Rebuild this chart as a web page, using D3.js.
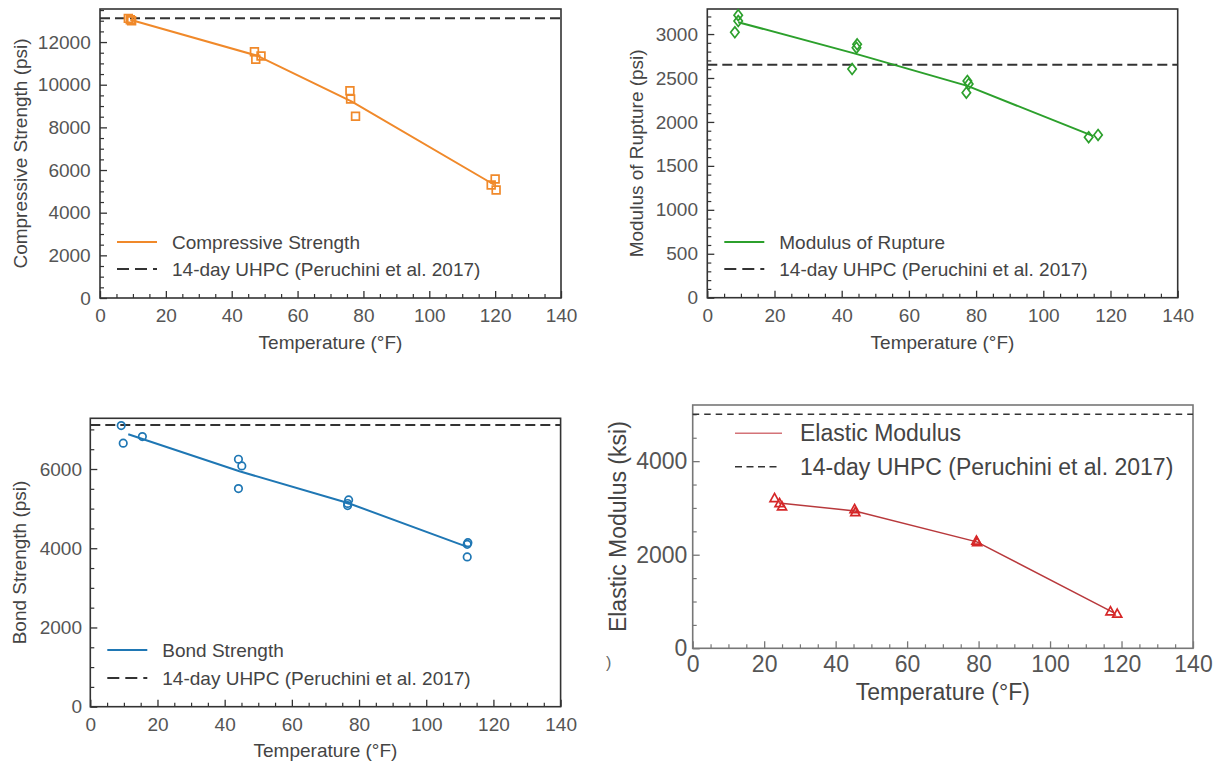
<!DOCTYPE html>
<html>
<head>
<meta charset="utf-8">
<script src="https://cdn.jsdelivr.net/npm/d3@7"></script>
<style>
  html, body { margin: 0; padding: 0; background: #fff; }
  svg { display: block; font-family: "Liberation Sans", Arial, sans-serif; }
</style>
</head>
<body>
<svg id="chart" width="1222" height="763"></svg>
<script>
// ---------- DATA ----------
const xTickValues = [0, 20, 40, 60, 80, 100, 120, 140];
const xLabel = "Temperature (°F)";
const refLabel = "14-day UHPC (Peruchini et al. 2017)";

// Compressive strength (psi)
const csTemp = [8.6, 9.6, 9.2, 46.9, 47.3, 48.9, 75.9, 76.1, 77.6, 120.0, 118.8, 120.3];
const csValue = [13110, 13000, 13050, 11550, 11190, 11345, 9720, 9330, 8520, 5580, 5300, 5060];
const csLineTemp = [9.2, 47.7, 76.5, 119.7];
const csLineValue = [13050, 11360, 9210, 5310];
const csRef = 13120;
const csYTicks = [0, 2000, 4000, 6000, 8000, 10000, 12000];

// Modulus of rupture (psi)
const morTemp = [8.2, 9.2, 9.2, 43.1, 44.6, 44.4, 77.4, 77.8, 77.1, 113.5, 116.3];
const morValue = [3020, 3215, 3148, 2602, 2883, 2845, 2466, 2432, 2333, 1826, 1852];
const morLineTemp = [9.2, 44.0, 77.4, 114.9];
const morLineValue = [3135, 2777, 2410, 1839];
const morRef = 2650;
const morYTicks = [0, 500, 1000, 1500, 2000, 2500, 3000];

// Bond strength (psi)
const bsTemp = [9.2, 9.8, 15.5, 44.1, 45.1, 44.1, 76.9, 76.6, 76.6, 112.4, 112.2, 112.2];
const bsValue = [7096, 6652, 6818, 6247, 6078, 5505, 5220, 5130, 5076, 4141, 4099, 3780];
const bsLineTemp = [11.3, 44.4, 76.7, 112.0];
const bsLineValue = [6879, 5943, 5142, 4040];
const bsRef = 7110;
const bsYTicks = [0, 2000, 4000, 6000];

// Elastic modulus (ksi)
const emTemp = [22.9, 24.3, 25.0, 45.3, 45.5, 79.4, 79.6, 116.9, 118.8];
const emValue = [3203, 3096, 3024, 2968, 2904, 2291, 2260, 782, 732];
const emLineTemp = [24.1, 45.4, 79.5, 117.9];
const emLineValue = [3108, 2936, 2275, 757];
const emRef = 5000;
const emYTicks = [0, 2000, 4000];

// ---------- PANELS ----------
const panels = [
  { name: "Compressive Strength", yLabel: "Compressive Strength (psi)",
    temp: csTemp, value: csValue, lineT: csLineTemp, lineV: csLineValue, ref: csRef,
    yTicks: csYTicks, yMinorStep: 500, yMax: 13550, color: "#f0892a", marker: "square",
    box: { l: 100, r: 561, t: 9, b: 298 }, font: 19, yLabelX: 20, xLabelY: 342,
    yPad: 9.3, xLabOff: 17, legend: { y1: 242, y2: 269 }, frame: "#333",
    dash: "10,5", legDash: "12,6", lw: 2, refW: 2, big: false },
  { name: "Modulus of Rupture", yLabel: "Modulus of Rupture (psi)",
    temp: morTemp, value: morValue, lineT: morLineTemp, lineV: morLineValue, ref: morRef,
    yTicks: morYTicks, yMinorStep: 100, yMax: 3285, color: "#2ca02c", marker: "diamond",
    box: { l: 707.3, r: 1177.7, t: 9, b: 297.7 }, font: 19, yLabelX: 636.7, xLabelY: 342,
    yPad: 9.3, xLabOff: 17, legend: { y1: 242, y2: 269 }, frame: "#333",
    dash: "10,5", legDash: "12,6", lw: 2, refW: 2, big: false },
  { name: "Bond Strength", yLabel: "Bond Strength (psi)",
    temp: bsTemp, value: bsValue, lineT: bsLineTemp, lineV: bsLineValue, ref: bsRef,
    yTicks: bsYTicks, yMinorStep: 500, yMax: 7280, color: "#1f77b4", marker: "circle",
    box: { l: 90.3, r: 560.6, t: 418.3, b: 706.7 }, font: 19, yLabelX: 19, xLabelY: 750.7,
    yPad: 8.3, xLabOff: 17, legend: { y1: 650, y2: 678 }, frame: "#333",
    dash: "10,5", legDash: "12,6", lw: 2, refW: 2, big: false },
  { name: "Elastic Modulus", yLabel: "Elastic Modulus (ksi)",
    temp: emTemp, value: emValue, lineT: emLineTemp, lineV: emLineValue, ref: emRef,
    yTicks: emYTicks, yMinorStep: 500, yMax: 5200, color: "#d62728", marker: "triangle",
    box: { l: 692.7, r: 1193, t: 405, b: 648.3 }, font: 23, yLabelX: 618, xLabelY: 691.7,
    yPad: 5.4, xLabOff: 15, legend: { y1: 433.3, y2: 466.7 }, frame: "#777",
    dash: "6.5,5", legDash: "7,4.5", lw: 1.5, refW: 1.5, big: true, lineColor: "#b8393c" }
];

const svg = d3.select("#chart");
const tickColor = "#555";
const labelColor = "#444";

function markerPath(type) {
  switch (type) {
    case "square": return d3.symbol(d3.symbolSquare, 60)();
    case "diamond": return "M0,-5.4L4.2,0L0,5.4L-4.2,0Z";
    case "circle": return d3.symbol(d3.symbolCircle, 44)();
    case "triangle": return "M0,-5L4.5,3.1L-4.5,3.1Z";
  }
}

panels.forEach(p => {
  const B = p.box;
  const x = d3.scaleLinear().domain([0, 140]).range([B.l, B.r]);
  const y = d3.scaleLinear().domain([0, p.yMax]).range([B.b, B.t]);
  const g = svg.append("g");

  // minor ticks
  const xMinor = d3.range(0, 141, 5).filter(v => !xTickValues.includes(v));
  const yMinor = d3.range(0, p.yMax, p.yMinorStep).filter(v => !p.yTicks.includes(v));

  const xAxisMinor = d3.axisBottom(x).tickValues(xMinor).tickSize(-4).tickFormat("");
  const yAxisMinor = d3.axisLeft(y).tickValues(yMinor).tickSize(-4).tickFormat("");
  g.append("g").attr("transform", `translate(0,${B.b})`).call(xAxisMinor)
    .call(s => s.select(".domain").remove())
    .selectAll("line").attr("stroke", p.frame).attr("stroke-width", 1.2);
  g.append("g").attr("transform", `translate(${B.l},0)`).call(yAxisMinor)
    .call(s => s.select(".domain").remove())
    .selectAll("line").attr("stroke", p.frame).attr("stroke-width", 1.2);

  // major ticks
  const fs = p.font;
  const xAxis = d3.axisBottom(x).tickValues(xTickValues).tickSize(-7)
    .tickPadding(p.xLabOff - 0.35 * fs).tickFormat(d3.format("d"));
  const yAxis = d3.axisLeft(y).tickValues(p.yTicks).tickSize(-7)
    .tickPadding(p.yPad).tickFormat(d3.format("d"));
  const gx = g.append("g").attr("transform", `translate(0,${B.b})`).call(xAxis);
  const gy = g.append("g").attr("transform", `translate(${B.l},0)`).call(yAxis);
  [gx, gy].forEach(a => {
    a.select(".domain").remove();
    a.selectAll("line").attr("stroke", p.frame).attr("stroke-width", 1.3);
    a.selectAll("text").attr("fill", tickColor).style("font-size", fs + "px")
      .style("font-family", '"Liberation Sans", Arial, sans-serif');
  });

  // frame
  g.append("rect").attr("x", B.l).attr("y", B.t)
    .attr("width", B.r - B.l).attr("height", B.b - B.t)
    .attr("fill", "none").attr("stroke", p.frame).attr("stroke-width", 1.6);

  // reference dashed line
  g.append("line").attr("x1", B.l).attr("x2", B.r)
    .attr("y1", y(p.ref)).attr("y2", y(p.ref))
    .attr("stroke", "#333").attr("stroke-width", p.refW).attr("stroke-dasharray", p.dash);

  // fitted line
  const lineData = p.lineT.map((t, i) => [t, p.lineV[i]]);
  g.append("path").datum(lineData)
    .attr("d", d3.line().x(d => x(d[0])).y(d => y(d[1])))
    .attr("fill", "none").attr("stroke", p.lineColor || p.color).attr("stroke-width", p.lw);

  // markers
  const pts = p.temp.map((t, i) => [t, p.value[i]]);
  g.selectAll("path.mk").data(pts).join("path").attr("class", "mk")
    .attr("d", markerPath(p.marker))
    .attr("transform", d => `translate(${x(d[0])},${y(d[1])})`)
    .attr("fill", "none").attr("stroke", p.color).attr("stroke-width", 1.7);

  // axis labels
  g.append("text").attr("x", (B.l + B.r) / 2).attr("y", p.xLabelY).attr("dy", "0.35em")
    .attr("text-anchor", "middle").attr("fill", labelColor)
    .style("font-size", fs + "px").text(xLabel);
  g.append("text").attr("transform", `translate(${p.yLabelX},${(B.t + B.b) / 2}) rotate(-90)`)
    .attr("dy", "0.35em").attr("text-anchor", "middle").attr("fill", labelColor)
    .style("font-size", fs + "px").text(p.yLabel);

  // legend
  const lx0 = p.big ? 735 : B.l + 17;
  const lx1 = p.big ? 782 : B.l + 57;
  const tx = p.big ? 800 : B.l + 72;
  g.append("line").attr("x1", lx0).attr("x2", lx1).attr("y1", p.legend.y1).attr("y2", p.legend.y1)
    .attr("stroke", p.big ? "#d47378" : p.color).attr("stroke-width", p.lw);
  g.append("line").attr("x1", lx0).attr("x2", lx1 - (p.big ? 3 : 0)).attr("y1", p.legend.y2).attr("y2", p.legend.y2)
    .attr("stroke", "#333").attr("stroke-width", p.refW).attr("stroke-dasharray", p.legDash);
  g.append("text").attr("x", tx).attr("y", p.legend.y1).attr("dy", "0.35em")
    .attr("fill", labelColor).style("font-size", fs + "px").text(p.name);
  g.append("text").attr("x", tx).attr("y", p.legend.y2).attr("dy", "0.35em")
    .attr("fill", labelColor).style("font-size", fs + "px").text(refLabel);
});

// stray cropped character at the bottom-right panel's left edge (as in the source image)
svg.append("text").attr("x", 606).attr("y", 662).attr("dy", "0.35em")
  .attr("fill", "#666").style("font-size", "16px").text(")");
</script>
</body>
</html>
